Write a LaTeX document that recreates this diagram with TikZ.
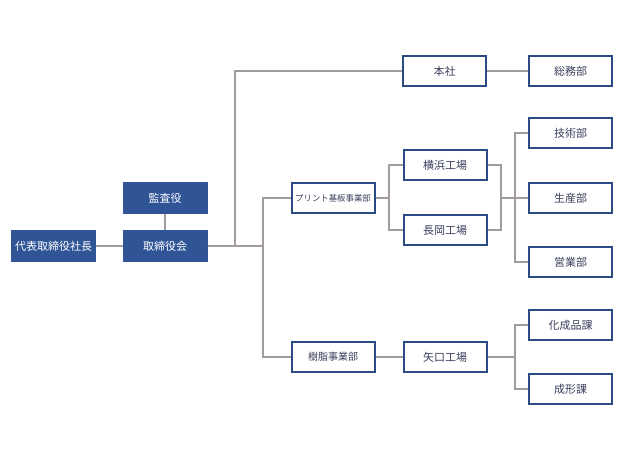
\documentclass[tikz,border=0pt]{standalone}
\usepackage{fontspec}
\setmainfont{Noto Sans CJK JP}
\begin{document}
\begin{tikzpicture}[x=1pt,y=-1pt,
  filled/.style={fill=fillblue, draw=fillblue, line width=1pt, minimum width=84pt, minimum height=31pt, inner sep=0pt, text=white, font=\fontsize{11}{13}\selectfont},
  wbox/.style={fill=white, draw=navy, line width=2pt, minimum width=83pt, minimum height=30pt, inner sep=0pt, text=txtc, font=\fontsize{11}{13}\selectfont},
  conn/.style={draw=linec, line width=2pt}]
\definecolor{fillblue}{HTML}{2F5597}
\definecolor{navy}{HTML}{2C4A82}
\definecolor{txtc}{HTML}{3A3F5C}
\definecolor{linec}{HTML}{A29C9C}
\useasboundingbox (0,0) rectangle (639,459);
\fill[white] (0,0) rectangle (639,459);
% nodes
\node[filled] (ceo) at (53.5,246) {代表取締役社長};
\node[filled] (audit) at (165,198) {監査役};
\node[filled] (board) at (165,246) {取締役会};
\node[wbox] (honsha) at (444.5,71) {本社};
\node[wbox] (somu) at (570.5,71) {総務部};
\node[wbox, font=\fontsize{8.4}{10}\selectfont] (print) at (333,198) {プリント基板事業部};
\node[wbox] (yoko) at (445,165) {横浜工場};
\node[wbox] (naga) at (445,230) {長岡工場};
\node[wbox] (giju) at (570.5,133) {技術部};
\node[wbox] (seisan) at (570.5,198) {生産部};
\node[wbox] (eigyo) at (570.5,262) {営業部};
\node[wbox, font=\fontsize{10}{12}\selectfont] (jushi) at (333,357) {樹脂事業部};
\node[wbox] (yaguchi) at (445,357) {矢口工場};
\node[wbox] (kasei) at (570.5,325) {化成品課};
\node[wbox] (seikei) at (570.5,389) {成形課};
% junctions
\coordinate (j1) at (235,246);
\coordinate (j2) at (263,246);
\coordinate (j3) at (389,198);
\coordinate (j4) at (501,198);
\coordinate (j5) at (515,198);
\coordinate (j6) at (515,357);
% connectors
\draw[conn] (ceo.east) -- (board.west);
\draw[conn] (audit.south) -- (board.north);
\draw[conn] (board.east) -- (j2);
\draw[conn] (honsha.west) -| (j1);
\draw[conn] (print.west) -| (j2) |- (jushi.west);
\draw[conn] (honsha.east) -- (somu.west);
\draw[conn] (yoko.west) -| (j3) |- (naga.west);
\draw[conn] (print.east) -- (j3);
\draw[conn] (yoko.east) -| (j4) |- (naga.east);
\draw[conn] (j4) -- (seisan.west);
\draw[conn] (giju.west) -| (j5) |- (eigyo.west);
\draw[conn] (jushi.east) -- (yaguchi.west);
\draw[conn] (yaguchi.east) -- (j6);
\draw[conn] (kasei.west) -| (j6) |- (seikei.west);
\end{tikzpicture}
\end{document}
